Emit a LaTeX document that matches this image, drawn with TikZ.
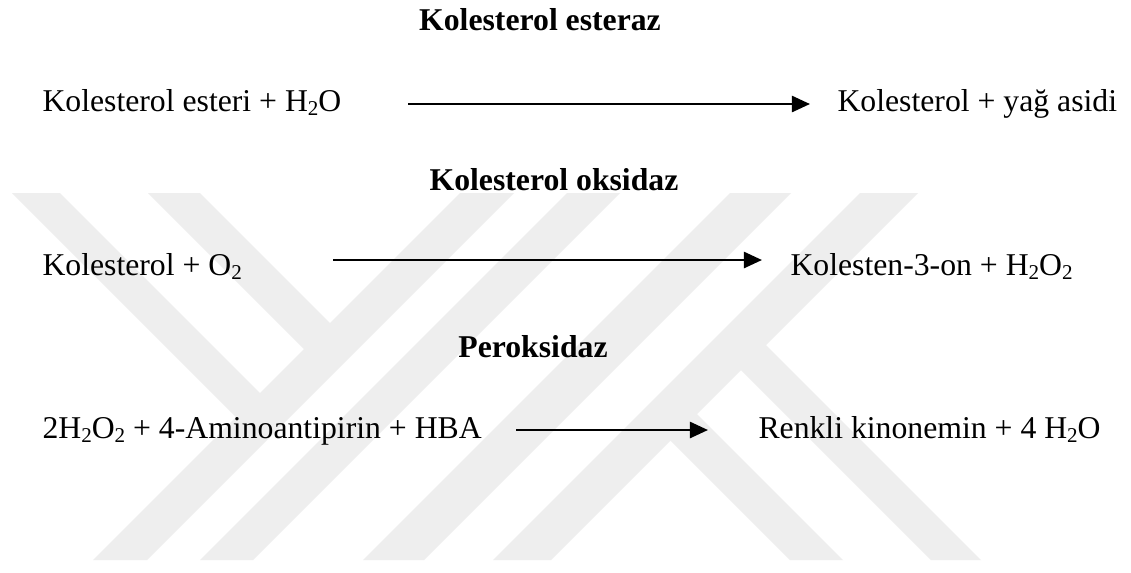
\documentclass[tikz,border=0pt]{standalone}
\usepackage{fontspec}
\setmainfont{Liberation Serif}
\usetikzlibrary{arrows.meta}
\newcommand{\sbs}[1]{\raisebox{-0.14em}{\fontsize{8.1pt}{8.1pt}\selectfont #1}}
\definecolor{wmgray}{RGB}{238,238,238}
\tikzset{
  wm/.style={fill=wmgray},
  eqtext/.style={inner sep=0pt, anchor=base west, font=\fontsize{12.2pt}{14pt}\selectfont},
  enz/.style={inner sep=0pt, anchor=base, font=\fontsize{12.2pt}{14pt}\selectfont\bfseries},
  rxn/.style={line width=1pt, -{Triangle[length=7pt,width=6.2pt]}}
}
\begin{document}
\begin{tikzpicture}[x=0.38462pt, y=-0.38462pt]
\useasboundingbox (0,0) rectangle (1131,572);
\fill[white] (0,0) rectangle (1131,572);
% watermark
\fill[wm] (460,193) -- (514,193) -- (147,560) -- (93,560) -- cycle;
\fill[wm] (567,193) -- (620,193) -- (253,560) -- (200,560) -- cycle;
\fill[wm] (730,193) -- (791,193) -- (424,560) -- (363,560) -- cycle;
\fill[wm] (860,193) -- (918,193) -- (551,560) -- (493,560) -- cycle;
\fill[wm] (12,193) -- (60,193) -- (265,398) -- (241,422) -- cycle;
\fill[wm] (148,193) -- (200,193) -- (335,328) -- (309,354) -- cycle;
\fill[wm] (761,340) -- (981,560) -- (931,560) -- (736,365) -- cycle;
\fill[wm] (692,409) -- (843,560) -- (790,560) -- (665.5,435.5) -- cycle;
% enzymes
\node[enz] (e1) at (540,30) {Kolesterol esteraz};
\node[enz] (e2) at (554,190) {Kolesterol oksidaz};
\node[enz] (e3) at (533,357) {Peroksidaz};
% reaction 1
\node[eqtext] (r1) at (42,111) {Kolesterol esteri + H\sbs{2}O};
\node[eqtext] (p1) at (837,111) {Kolesterol + yağ asidi};
\coordinate (a1s) at (408,104);
\coordinate (a1e) at (810,104);
\draw[rxn] (a1s) -- (a1e);
% reaction 2
\node[eqtext] (r2) at (42,275) {Kolesterol + O\sbs{2}};
\node[eqtext] (p2) at (790,275) {Kolesten-3-on + H\sbs{2}O\sbs{2}};
\coordinate (a2s) at (333,260);
\coordinate (a2e) at (762,260);
\draw[rxn] (a2s) -- (a2e);
% reaction 3
\node[eqtext] (r3) at (42,438) {2H\sbs{2}O\sbs{2} + 4-Aminoantipirin + HBA};
\node[eqtext] (p3) at (758,438) {Renkli kinonemin + 4 H\sbs{2}O};
\coordinate (a3s) at (516,430);
\coordinate (a3e) at (708,430);
\draw[rxn] (a3s) -- (a3e);
\end{tikzpicture}
\end{document}
